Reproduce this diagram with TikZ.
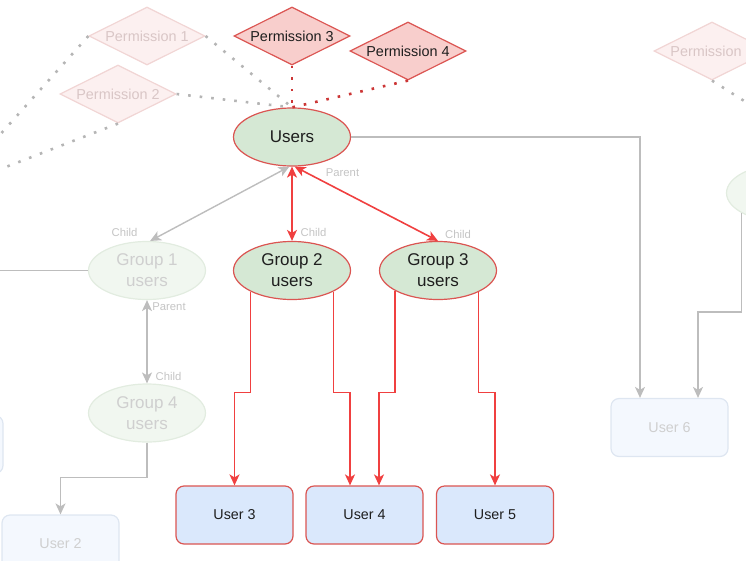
\documentclass[tikz,border=0pt]{standalone}
\usepackage{fontspec}
\setmainfont{Liberation Sans}
\usetikzlibrary{shapes.geometric,arrows.meta}

% palette
\definecolor{nodered}{HTML}{DB5552}
\definecolor{edgered}{HTML}{F04040}
\definecolor{grpfill}{HTML}{D5E8D4}
\definecolor{permfill}{HTML}{F8CECC}
\definecolor{usrfill}{HTML}{DAE8FC}
\definecolor{txt}{HTML}{1E1E1E}
\definecolor{edgegray}{HTML}{BDBDBD}
\definecolor{dotgray}{HTML}{B5B5B5}
\definecolor{lblgray}{HTML}{C4C4C4}
\definecolor{fadetxt}{HTML}{CFCFCF}
\definecolor{fgrpfill}{HTML}{F1F7F0}
\definecolor{fgrpline}{HTML}{E2ECE0}
\definecolor{fpermfill}{HTML}{FCF0F0}
\definecolor{fpermline}{HTML}{F1D5D4}
\definecolor{fpermtxt}{HTML}{D9C6C6}
\definecolor{fusrfill}{HTML}{F4F8FE}
\definecolor{fusrline}{HTML}{DEE6F1}

\tikzset{
  grp/.style={ellipse, draw=nodered, fill=grpfill, line width=1.2pt,
    minimum width=117pt, minimum height=58pt, inner sep=0pt, align=center,
    text=txt, font=\fontsize{17}{21}\selectfont},
  fgrp/.style={grp, draw=fgrpline, fill=fgrpfill, text=fadetxt},
  perm/.style={diamond, aspect=2, draw=nodered, fill=permfill, line width=1.2pt,
    minimum width=116pt, minimum height=58pt, inner sep=0pt,
    text=txt, font=\fontsize{14.4}{17}\selectfont},
  fperm/.style={perm, draw=fpermline, fill=fpermfill, text=fpermtxt},
  usr/.style={rectangle, rounded corners=8pt, draw=nodered, fill=usrfill,
    line width=1.2pt, minimum width=117pt, minimum height=58pt, inner sep=0pt,
    text=txt, font=\fontsize{14.3}{17}\selectfont},
  fusr/.style={usr, draw=fusrline, fill=fusrfill, text=fadetxt},
  redlink/.style={draw=edgered, line width=1.6pt, -{Stealth[length=11pt,width=10pt,inset=3pt]}},
  redboth/.style={draw=edgered, line width=1.6pt, {Stealth[length=11pt,width=10pt,inset=3pt]}-{Stealth[length=11pt,width=10pt,inset=3pt]}},
  graylink/.style={draw=edgegray, line width=1.4pt, -{Stealth[length=11pt,width=10pt,inset=3pt]}},
  grayboth/.style={draw=edgegray, line width=1.4pt, {Stealth[length=11pt,width=10pt,inset=3pt]}-{Stealth[length=11pt,width=10pt,inset=3pt]}},
  grayplain/.style={draw=edgegray, line width=1.4pt},
  reddots/.style={draw=edgered!85!black, line width=2.6pt, dash pattern=on 2.6pt off 9pt},
  graydots/.style={draw=dotgray, line width=2.6pt, dash pattern=on 2.6pt off 9pt},
  lbl/.style={inner sep=0pt, text=lblgray, font=\fontsize{11.3}{13}\selectfont},
}

\begin{document}
\begin{tikzpicture}[x=1pt, y=-1pt]
\useasboundingbox (0,0) rectangle (746,560);
\clip (0,0) rectangle (746,560);

% permissions
\node[fperm] (p1) at (147,36) {Permission 1};
\node[fperm] (p2) at (118,94) {Permission 2};
\node[perm]  (p3) at (292,36) {Permission 3};
\node[perm]  (p4) at (408,51) {Permission 4};
\node[fperm] (p5) at (712,51) {Permission\phantom{ 5}};

% groups
\node[grp]  (users) at (292,137) {Users};
\node[fgrp] (g1) at (147,270.5) {Group 1\\users};
\node[grp]  (g2) at (292,270.5) {Group 2\\users};
\node[grp]  (g3) at (438,270.5) {Group 3\\users};
\node[fgrp] (g4) at (147,413) {Group 4\\users};
\node[fgrp] (g5) at (785,193) {};

% users
\node[fusr] (u1) at (-55.5,444.5) {};
\node[fusr] (u2) at (60.5,544) {User 2};
\node[usr]  (u3) at (234.5,515) {User 3};
\node[usr]  (u4) at (364.5,515) {User 4};
\node[usr]  (u5) at (495,515) {User 5};
\node[fusr] (u6) at (669.5,427.5) {User 6};

% loose ends leaving the frame
\coordinate (offp1) at (-20,157);
\coordinate (offp2) at (-20,177);
\coordinate (offp5) at (790,130);
\coordinate (offg1) at (-10,270.5);

% permission links
\draw[graydots] (p1.east) -- (users.north);
\draw[graydots] (p2.east) -- (users.north);
\draw[graydots] (p1.west) -- (offp1);
\draw[graydots] (p2.south) -- (offp2);
\draw[graydots] (p5.south) -- (offp5);
\draw[reddots] (p3.south) -- (users.north);
\draw[reddots] (p4.south) -- (users.north);

% group hierarchy
\draw[grayboth] (users.-95) -- (g1.84);
\draw[redboth] (users.south) -- (g2.north);
\draw[redboth] (users.-85) -- (g3.north);
\draw[grayboth] (g1.south) -- (g4.north);
\draw[grayplain] (g1.west) -- (offg1);

% membership
\draw[redlink] (g2.207) |- ([yshift=93pt]u3.north) -- (u3.north);
\draw[redlink] (g2.333) |- ([yshift=93pt,xshift=-14.5pt]u4.north) -- ([xshift=-14.5pt]u4.north);
\draw[redlink] (g3.205.5) |- ([yshift=93pt,xshift=14.5pt]u4.north) -- ([xshift=14.5pt]u4.north);
\draw[redlink] (g3.332.3) |- ([yshift=93pt]u5.north) -- (u5.north);
\draw[graylink] (g4.south) |- ([yshift=37pt]u2.north) -- (u2.north);
\draw[graylink] (users.east) -| ([xshift=-29.5pt]u6.north);
\draw[graylink] (g5.205.5) |- ([yshift=86pt,xshift=28.5pt]u6.north) -- ([xshift=28.5pt]u6.north);

% edge labels
\node[lbl] (l1) at (124.5,232) {Child};
\node[lbl] (l2) at (313.5,232) {Child};
\node[lbl] (l3) at (342.5,173) {Parent};
\node[lbl] (l4) at (458,234) {Child};
\node[lbl] (l5) at (169,307) {Parent};
\node[lbl] (l6) at (168.5,376) {Child};
\end{tikzpicture}
\end{document}
